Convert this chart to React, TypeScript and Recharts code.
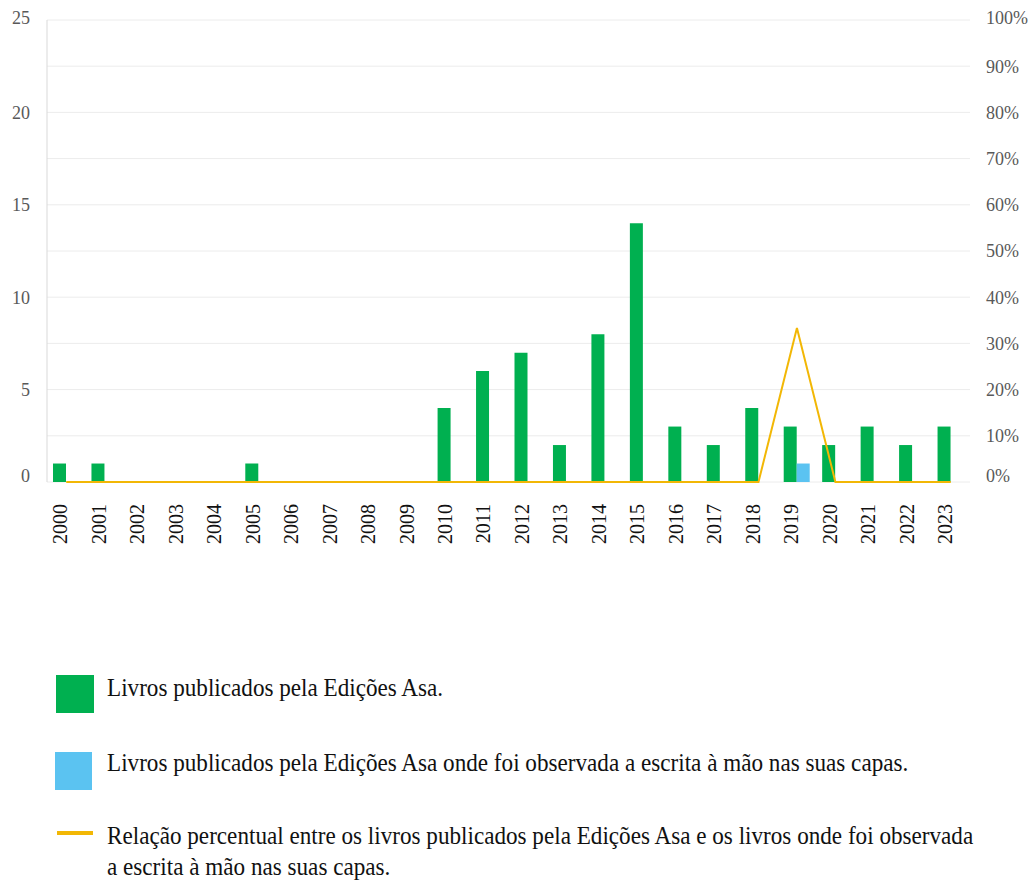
import { ComposedChart, Bar, Line, XAxis, YAxis, CartesianGrid } from 'recharts'

const years = ['2000', '2001', '2002', '2003', '2004', '2005', '2006', '2007', '2008', '2009', '2010', '2011',
  '2012', '2013', '2014', '2015', '2016', '2017', '2018', '2019', '2020', '2021', '2022', '2023']
const published = [1, 1, 0, 0, 0, 1, 0, 0, 0, 0, 4, 6, 7, 2, 8, 14, 3, 2, 4, 3, 2, 3, 2, 3]
const handwritten = [0, 0, 0, 0, 0, 0, 0, 0, 0, 0, 0, 0, 0, 0, 0, 0, 0, 0, 0, 1, 0, 0, 0, 0]
const ratioPct = [0, 0, 0, 0, 0, 0, 0, 0, 0, 0, 0, 0, 0, 0, 0, 0, 0, 0, 0, 33.33, 0, 0, 0, 0]

const leftTicks = [0, 5, 10, 15, 20, 25]
const rightTicks = [0, 10, 20, 30, 40, 50, 60, 70, 80, 90, 100]

const labels = {
  published: 'Livros publicados pela Edições Asa.',
  handwritten: 'Livros publicados pela Edições Asa onde foi observada a escrita à mão nas suas capas.',
  ratio: 'Relação percentual entre os livros publicados pela Edições Asa e os livros onde foi observada a escrita à mão nas suas capas.',
}

const GREEN = '#00b050'
const BLUE = '#5bc3f1'
const GOLD = '#f2b705'
const FONT = '"Liberation Serif", "Times New Roman", serif'

const data = years.map((year, i) => ({
  year,
  published: published[i],
  handwritten: handwritten[i],
  ratio: ratioPct[i],
}))

function YearTick({ x, y, payload }: any) {
  return (
    <g transform={`translate(${x - 6},${y + 14}) rotate(-90)`}>
      <text x={0} y={0} dy="0.36em" textAnchor="end" fontSize={20} fill="#111" fontFamily={FONT}>
        {payload.value}
      </text>
    </g>
  )
}

// value labels on both vertical axes; the bottom one sits a bit above its gridline
function ValueTick({ x, y, payload, textAnchor, suffix }: any) {
  const shift = payload.value === 0 ? -6 : payload.value === (suffix ? 100 : 25) ? -2 : 0
  return (
    <text x={x} y={y + shift} dy="0.35em" textAnchor={textAnchor} fontSize={18} fill="#595959" fontFamily={FONT}>
      {`${payload.value}${suffix || ''}`}
    </text>
  )
}

const textStyle: React.CSSProperties = {
  position: 'absolute',
  left: 107,
  fontSize: 26,
  lineHeight: '31px',
  color: '#111',
  transform: 'scaleX(0.89)',
  transformOrigin: 'left top',
  whiteSpace: 'normal',
}

export default function App() {
  return (
    <div style={{ position: 'absolute', left: 0, top: 0, width: 1033, height: 882, background: '#fff', fontFamily: FONT, overflow: 'hidden' }}>
      <ComposedChart
        width={1033}
        height={580}
        data={data}
        margin={{ top: 20, right: 0, bottom: 0, left: 0 }}
        barGap={0}
        barCategoryGap={0}
      >
        <CartesianGrid yAxisId="right" vertical={false} stroke="#ececec" />
        <XAxis dataKey="year" height={98} interval={0} tick={<YearTick />} tickLine={false} axisLine={false} />
        <YAxis
          yAxisId="left"
          domain={[0, 25]}
          ticks={leftTicks}
          width={47}
          tickLine={false}
          tickSize={0}
          tickMargin={17}
          axisLine={{ stroke: '#d9d9d9' }}
          tick={<ValueTick />}
        />
        <YAxis
          yAxisId="right"
          orientation="right"
          domain={[0, 100]}
          ticks={rightTicks}
          width={63}
          tickLine={false}
          tickSize={0}
          tickMargin={16}
          axisLine={false}
          tick={<ValueTick suffix="%" />}
        />
        <Bar yAxisId="left" dataKey="published" fill={GREEN} barSize={13} isAnimationActive={false} />
        <Bar yAxisId="left" dataKey="handwritten" fill={BLUE} barSize={13} isAnimationActive={false} />
        <Line
          yAxisId="right"
          dataKey="ratio"
          type="linear"
          stroke={GOLD}
          strokeWidth={2}
          dot={false}
          activeDot={false}
          isAnimationActive={false}
        />
      </ComposedChart>

      <div style={{ position: 'absolute', left: 56, top: 675, width: 38, height: 38, background: GREEN }} />
      <div style={{ ...textStyle, top: 672 }}>{labels.published}</div>

      <div style={{ position: 'absolute', left: 55, top: 752, width: 37, height: 38, background: BLUE }} />
      <div style={{ ...textStyle, top: 747 }}>{labels.handwritten}</div>

      <div style={{ position: 'absolute', left: 57, top: 831, width: 36, height: 4, background: GOLD }} />
      <div style={{ ...textStyle, top: 820, width: 980 }}>{labels.ratio}</div>
    </div>
  )
}
